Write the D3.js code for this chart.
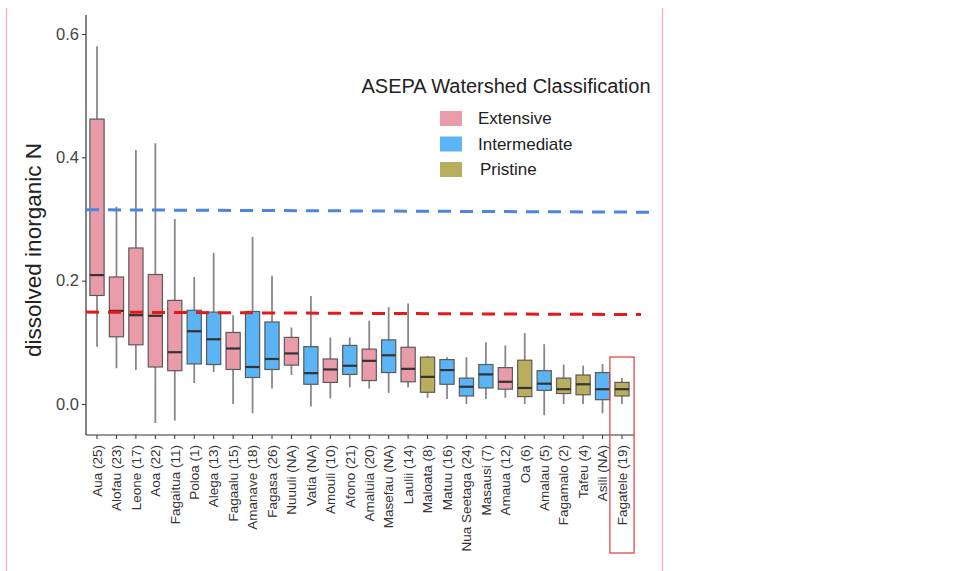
<!DOCTYPE html>
<html><head><meta charset="utf-8">
<script src="https://cdn.jsdelivr.net/npm/d3@7/dist/d3.min.js"></script>
<style>body{margin:0;background:#fff;}svg{display:block;font-family:"Liberation Sans",Arial,sans-serif;}</style>
</head><body><svg id="c" width="964" height="571"></svg>
<script>
const categories = ["Aua (25)","Alofau (23)","Leone (17)","Aoa (22)","Fagaitua (11)","Poloa (1)","Alega (13)","Fagaalu (15)","Amanave (18)","Fagasa (26)","Nuuuli (NA)","Vatia (NA)","Amouli (10)","Afono (21)","Amaluia (20)","Masefau (NA)","Laulii (14)","Maloata (8)","Matuu (16)","Nua Seetaga (24)","Masausi (7)","Amaua (12)","Oa (6)","Amalau (5)","Fagamalo (2)","Tafeu (4)","Asili (NA)","Fagatele (19)"];
const classes = ["Extensive","Extensive","Extensive","Extensive","Extensive","Intermediate","Intermediate","Extensive","Intermediate","Intermediate","Extensive","Intermediate","Extensive","Intermediate","Extensive","Intermediate","Extensive","Pristine","Intermediate","Intermediate","Intermediate","Extensive","Pristine","Intermediate","Pristine","Pristine","Intermediate","Pristine"];
const whiskerLow = [0.093,0.058,0.055,-0.031,-0.027,0.034,0.052,0.000,-0.015,0.025,0.047,-0.004,0.009,0.027,0.025,0.018,0.027,0.010,0.008,0.000,0.008,0.010,0.000,-0.018,0.000,0.000,-0.015,0.000];
const q1 = [0.176,0.109,0.096,0.060,0.054,0.065,0.064,0.056,0.043,0.056,0.063,0.032,0.035,0.048,0.038,0.051,0.036,0.019,0.032,0.013,0.026,0.024,0.012,0.022,0.017,0.015,0.007,0.013];
const median = [0.209,0.151,0.144,0.143,0.084,0.118,0.105,0.090,0.060,0.073,0.082,0.050,0.056,0.062,0.070,0.079,0.057,0.044,0.055,0.028,0.048,0.036,0.026,0.033,0.024,0.032,0.024,0.024];
const q3 = [0.462,0.206,0.253,0.210,0.168,0.152,0.149,0.116,0.150,0.133,0.108,0.093,0.073,0.095,0.089,0.104,0.092,0.076,0.072,0.042,0.064,0.059,0.071,0.054,0.042,0.047,0.051,0.035];
const whiskerHigh = [0.580,0.320,0.412,0.423,0.300,0.206,0.245,0.144,0.271,0.208,0.124,0.175,0.108,0.108,0.135,0.157,0.163,0.078,0.076,0.076,0.100,0.095,0.115,0.097,0.064,0.062,0.065,0.042];
const yTicks = [0.0,0.2,0.4,0.6];
const legendLabels = ["Extensive","Intermediate","Pristine"];
const legendColors = ["#E99BAA","#5AB4F5","#B9AE5E"];
// threshold dashed lines: value at start and end
const thresholdBlue = [0.315,0.311];
const thresholdRed = [0.149,0.145];
const highlighted = "Fagatele (19)";

const svg = d3.select("#c");
const x = d3.scaleBand().domain(categories).range([87,632]).paddingInner(0.27).paddingOuter(0.15);
const y = d3.scaleLinear().domain([0,0.6]).range([404,34]);
const color = d3.scaleOrdinal().domain(legendLabels).range(legendColors);

// image frame lines
svg.append("line").attr("x1",6.5).attr("x2",6.5).attr("y1",8).attr("y2",571).attr("stroke","#F5B5BE").attr("stroke-width",1.5);
svg.append("line").attr("x1",662.5).attr("x2",662.5).attr("y1",8).attr("y2",571).attr("stroke","#F5B5BE").attr("stroke-width",1.5);

// axes
const yAxis = d3.axisLeft(y).tickValues(yTicks).tickFormat(d3.format(".1f")).tickSize(4).tickPadding(3);
const gy = svg.append("g").attr("transform","translate(86,0)").call(yAxis);
gy.select(".domain").attr("d","M0,15V435").attr("stroke","#333").attr("stroke-width",1.2);
gy.selectAll(".tick line").attr("stroke","#333");
gy.selectAll(".tick text").attr("font-size",16.5).attr("fill","#444");

const xAxis = d3.axisBottom(x).tickSize(4).tickPadding(3);
const gx = svg.append("g").attr("transform","translate(0,435)").call(xAxis);
gx.select(".domain").attr("d","M86,0H634").attr("stroke","#333").attr("stroke-width",1.2);
gx.selectAll(".tick line").attr("stroke","#333");
gx.selectAll(".tick text").attr("font-size",13.5).attr("fill","#333")
  .attr("transform","rotate(-90)").attr("text-anchor","end").attr("dy","0.35em").attr("x",-10).attr("y",0);

// y title
svg.append("text").attr("transform","translate(41,250) rotate(-90)").attr("text-anchor","middle")
  .attr("font-size",22.5).attr("fill","#222").text("dissolved inorganic N");

// boxes
const bw = x.bandwidth();
const g = svg.append("g");
categories.forEach((c,i)=>{
  const cx = x(c)+bw/2;
  g.append("line").attr("x1",cx).attr("x2",cx).attr("y1",y(whiskerHigh[i])).attr("y2",y(whiskerLow[i]))
    .attr("stroke","#888").attr("stroke-width",1.8);
  g.append("rect").attr("x",x(c)).attr("width",bw).attr("y",y(q3[i])).attr("height",y(q1[i])-y(q3[i]))
    .attr("fill",color(classes[i])).attr("stroke","#5a5a5a").attr("stroke-width",1.2);
  g.append("line").attr("x1",x(c)).attr("x2",x(c)+bw).attr("y1",y(median[i])).attr("y2",y(median[i]))
    .attr("stroke","#333").attr("stroke-width",2.2);
});

// thresholds
svg.append("line").attr("x1",86).attr("x2",649).attr("y1",y(thresholdBlue[0])).attr("y2",y(thresholdBlue[1]))
  .attr("stroke","#4A86E0").attr("stroke-width",3).attr("stroke-dasharray","13,9");
svg.append("line").attr("x1",86).attr("x2",641).attr("y1",y(thresholdRed[0])).attr("y2",y(thresholdRed[1]))
  .attr("stroke","#E41A1A").attr("stroke-width",3).attr("stroke-dasharray","13,9");

// highlight box
const hx = x(highlighted);
svg.append("rect").attr("x",hx-5).attr("y",357).attr("width",bw+10).attr("height",196)
  .attr("fill","none").attr("stroke","#E04848").attr("stroke-width",1.3);

// legend
svg.append("text").attr("x",506).attr("y",93).attr("text-anchor","middle").attr("font-size",20).attr("fill","#222")
  .text("ASEPA Watershed Classification");
legendLabels.forEach((l,i)=>{
  const ly = 111 + i*25.5;
  svg.append("rect").attr("x",440).attr("y",ly).attr("width",22).attr("height",15).attr("fill",legendColors[i]);
  svg.append("text").attr("x",i===2?480:478).attr("y",ly+13).attr("font-size",17).attr("fill","#222").text(l);
});
</script></body></html>
